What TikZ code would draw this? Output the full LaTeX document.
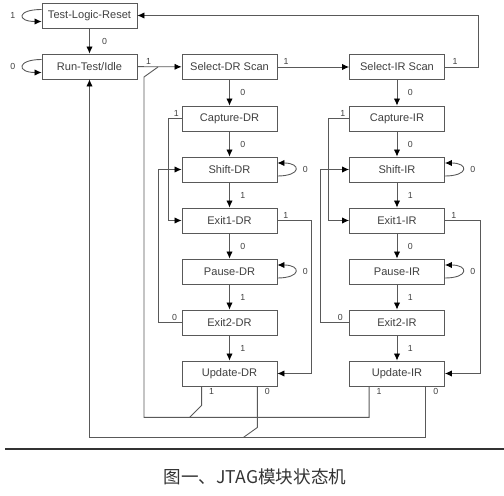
\documentclass[tikz,border=0pt]{standalone}
\usepackage{fontspec}
\setmainfont{Liberation Sans}
\newfontfamily\cjk{Noto Sans CJK SC}
\usetikzlibrary{calc,arrows.meta}

\begin{document}
\begin{tikzpicture}[x=0.02cm,y=-0.02cm,
	state/.style={draw=gray!70!black, line width=0.5pt, minimum width=1.9cm, minimum height=0.5cm, inner sep=0pt, text=black!75, font=\fontsize{6.3}{7}\selectfont},
	wire/.style={draw=gray!70!black, line width=0.5pt},
	arr/.style={wire, -{Latex[length=4pt,width=3.6pt,color=black]}},
	lab/.style={text=black!75, font=\fontsize{5}{6}\selectfont, inner sep=1pt}]
		\useasboundingbox (0,0) rectangle (504,496);
		\node[state] (tlr) at (89.5,15.5) {Test-Logic-Reset};
		\node[state] (rti) at (89.5,66.5) {Run-Test/Idle};
		\node[state] (seldr) at (229.5,67) {Select-DR Scan};
		\node[state] (capdr) at (229.5,118.5) {Capture-DR};
		\node[state] (shiftdr) at (229.5,169.5) {Shift-DR};
		\node[state] (exadr) at (229.5,220.5) {Exit1-DR};
		\node[state] (pausedr) at (229.5,271.5) {Pause-DR};
		\node[state] (exbdr) at (229.5,322.5) {Exit2-DR};
		\node[state] (upddr) at (229.5,373.5) {Update-DR};
		\node[state] (selir) at (397,67) {Select-IR Scan};
		\node[state] (capir) at (397,118.5) {Capture-IR};
		\node[state] (shiftir) at (397,169.5) {Shift-IR};
		\node[state] (exair) at (397,220.5) {Exit1-IR};
		\node[state] (pauseir) at (397,271.5) {Pause-IR};
		\node[state] (exbir) at (397,322.5) {Exit2-IR};
		\node[state] (updir) at (397,373.5) {Update-IR};
		\draw[arr] ($(tlr.west)+(0,-6)$) .. controls +(-25,0) and +(-25,0) .. ($(tlr.west)+(0,6)$) node[lab,midway,left=3pt] {1};
		\draw[arr] ($(rti.west)+(0,-7)$) .. controls +(-25,0) and +(-25,0) .. ($(rti.west)+(0,6)$) node[lab,midway,left=3pt] {0};
		\draw[arr] (tlr) -- (rti) node[lab,midway,right=6pt] {0};
		\draw[arr] (rti) -- (seldr) node[lab,pos=0.25,above] {1};
		\draw[arr] (seldr) -- (selir) node[lab,pos=0.12,above] {1};
		\draw[arr] (selir.east) -- ++(34,0) node[lab,pos=0.3,above] {1} |- (tlr.east);
		\draw[arr] (seldr) -- (capdr) node[lab,midway,right=5pt] {0};
		\draw[arr] (capdr) -- (shiftdr) node[lab,midway,right=5pt] {0};
		\draw[arr] (shiftdr) -- (exadr) node[lab,midway,right=5pt] {1};
		\draw[arr] (exadr) -- (pausedr) node[lab,midway,right=5pt] {0};
		\draw[arr] (pausedr) -- (exbdr) node[lab,midway,right=5pt] {1};
		\draw[arr] (exbdr) -- (upddr) node[lab,midway,right=5pt] {1};
		\draw[arr] (selir) -- (capir) node[lab,midway,right=5pt] {0};
		\draw[arr] (capir) -- (shiftir) node[lab,midway,right=5pt] {0};
		\draw[arr] (shiftir) -- (exair) node[lab,midway,right=5pt] {1};
		\draw[arr] (exair) -- (pauseir) node[lab,midway,right=5pt] {0};
		\draw[arr] (pauseir) -- (exbir) node[lab,midway,right=5pt] {1};
		\draw[arr] (exbir) -- (updir) node[lab,midway,right=5pt] {1};
		\draw[arr] ($(shiftdr.east)+(0,6.5)$) .. controls +(24,0) and +(24,0) .. ($(shiftdr.east)+(0,-6.5)$) node[lab,midway,right=3pt] {0};
		\draw[arr] ($(pausedr.east)+(0,6.5)$) .. controls +(24,0) and +(24,0) .. ($(pausedr.east)+(0,-6.5)$) node[lab,midway,right=3pt] {0};
		\draw[arr] ($(shiftir.east)+(0,6.5)$) .. controls +(24,0) and +(24,0) .. ($(shiftir.east)+(0,-6.5)$) node[lab,midway,right=3pt] {0};
		\draw[arr] ($(pauseir.east)+(0,6.5)$) .. controls +(24,0) and +(24,0) .. ($(pauseir.east)+(0,-6.5)$) node[lab,midway,right=3pt] {0};
		\draw[arr] (capdr.west) -- ++(-13,0) node[lab,pos=0.4,above] {1} |- (exadr.west);
		\draw[arr] (exadr.east) -- ++(34,0) node[lab,pos=0.25,above] {1} |- (upddr.east);
		\draw[arr] (exbdr.west) -- ++(-23,0) node[lab,pos=0.3,above] {0} |- (shiftdr.west);
		\draw[arr] (capir.west) -- ++(-21,0) node[lab,pos=0.3,above] {1} |- (exair.west);
		\draw[arr] (exair.east) -- ++(36,0) node[lab,pos=0.25,above] {1} |- (updir.east);
		\draw[arr] (exbir.west) -- ++(-29,0) node[lab,pos=0.3,above] {0} |- (shiftir.west);
		\draw[wire] ($(updir.south west)+(20,0)$) node[lab,below right,xshift=3pt] {1} -- ++(0,31) -| (144,77) -- (158,67);
		\draw[wire] ($(upddr.south west)+(20,0)$) node[lab,below right,xshift=3pt] {1} -- ++(0,19) -- ++(-12,12);
		\draw[arr] ($(updir.south east)+(-19,0)$) node[lab,below right,xshift=3pt] {0} -- ++(0,51) -| (rti.south);
		\draw[wire] ($(upddr.south east)+(-20,0)$) node[lab,below right,xshift=3pt] {0} -- ++(0,41) -- ++(-14,10);
		\draw[black!80, line width=0.8pt] (5,449) -- (504,449);
		\node[font=\cjk\fontsize{10}{12}\selectfont, text=black!80] (caption) at (255,477) {图一、JTAG模块状态机};
		\end{tikzpicture}
\end{document}
